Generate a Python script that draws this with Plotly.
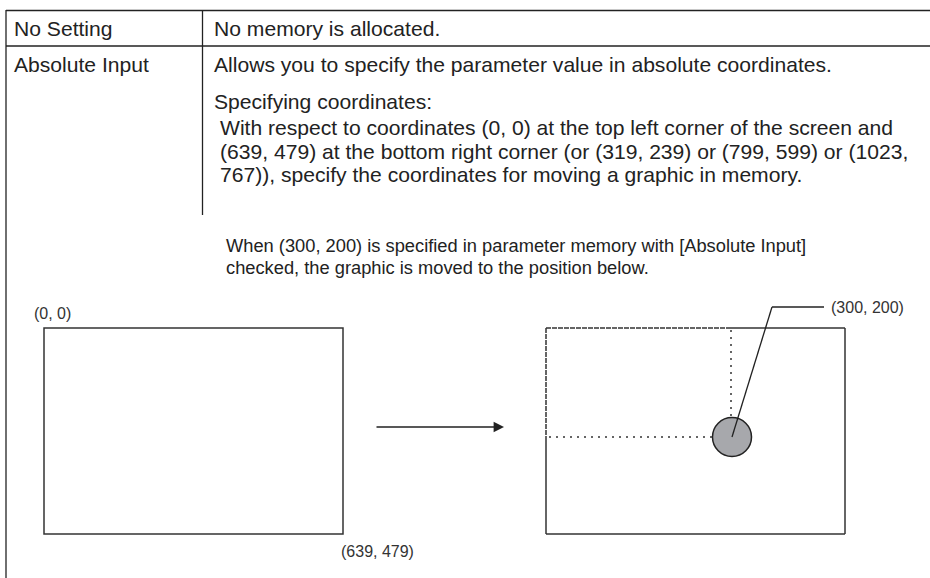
import plotly.graph_objects as go

# ---- data (text content) ----
row_labels = ["No Setting", "Absolute Input"]
row1_desc = ["No memory is allocated."]
row2_desc = [
    "Allows you to specify the parameter value in absolute coordinates.",
    "Specifying coordinates:",
    "With respect to coordinates (0, 0) at the top left corner of the screen and",
    "(639, 479) at the bottom right corner (or (319, 239) or (799, 599) or (1023,",
    "767)), specify the coordinates for moving a graphic in memory.",
]
caption_lines = [
    "When (300, 200) is specified in parameter memory with [Absolute Input]",
    "checked, the graphic is moved to the position below.",
]
origin_label = "(0, 0)"
corner_label = "(639, 479)"
target_label = "(300, 200)"

W, H = 930, 578
FONT = "Arial, 'Liberation Sans', sans-serif"
INK = "#222222"
LINE = "#333333"

fig = go.Figure()

shapes = []
annos = []

def line(x0, y0, x1, y1, color=INK, width=1.3, dash="solid"):
    shapes.append(dict(type="line", xref="x", yref="y", x0=x0, y0=y0, x1=x1, y1=y1,
                       line=dict(color=color, width=width, dash=dash)))

def text(x, y, s, size, color=INK, xanchor="left"):
    annos.append(dict(x=x, y=y, xref="x", yref="y", text=s, showarrow=False,
                      xanchor=xanchor, yanchor="middle",
                      font=dict(family=FONT, size=size, color=color)))

# table lines
line(6, 10.5, W + 5, 10.5)
line(6, 46, W + 5, 46)
line(6, 10, 6, H + 5)
line(202.5, 10, 202.5, 215)

# table text
TS = 21.1
text(12, 28, row_labels[0], TS)
text(212, 28, row1_desc[0], TS)
text(12, 64, row_labels[1], TS)
text(212, 64, row2_desc[0], TS)
text(212, 101, row2_desc[1], TS)
text(218, 127, row2_desc[2], TS)
text(218, 151, row2_desc[3], TS)
text(218, 174, row2_desc[4], TS)

# caption
CS = 18.3
text(224, 245, caption_lines[0], CS)
text(224, 267, caption_lines[1], CS)

# left screen
shapes.append(dict(type="rect", xref="x", yref="y", x0=44, y0=328, x1=343, y1=534,
                   line=dict(color=LINE, width=1.5)))
LS = 16
text(32, 313, origin_label, LS, color="#333333")
text(339, 551, corner_label, LS, color="#333333")

# arrow
annos.append(dict(x=504, y=427, ax=375, ay=427, xref="x", yref="y", axref="x", ayref="y",
                  text="", showarrow=True, arrowhead=2, arrowsize=1.6, arrowwidth=1.3,
                  arrowcolor=INK))

# right screen (old position edges drawn finely dashed)
rx0, ry0, rx1, ry1 = 546, 328, 845, 534
cx, cy, r = 732, 437, 19.5
line(rx0, ry0, cx - 1, ry0, color=LINE, width=1.5, dash="5px,1px")
line(cx - 1, ry0, rx1, ry0, color=LINE, width=1.5)
line(rx1, ry0, rx1, ry1, color=LINE, width=1.5)
line(rx0, ry1, rx1, ry1, color=LINE, width=1.5)
line(rx0, ry0, rx0, cy, color=LINE, width=1.5, dash="5px,1px")
line(rx0, cy, rx0, ry1, color=LINE, width=1.5)
line(cx - 1, ry0 + 2, cx - 1, cy - r, color=LINE, width=1.5, dash="2px,5px")
line(rx0 + 3, cy, cx - r, cy, color=LINE, width=1.5, dash="2px,5px")
shapes.append(dict(type="circle", xref="x", yref="y", x0=cx - r, y0=cy - r, x1=cx + r, y1=cy + r,
                   fillcolor="#a7a8ac", line=dict(color=INK, width=1.5)))
line(cx, cy, 772, 307, color=INK, width=1.3)
line(772, 307, 824, 307, color=INK, width=1.3)
text(829, 307, target_label, LS, color="#333333")

fig.update_layout(
    width=W, height=H,
    margin=dict(l=0, r=0, t=0, b=0),
    paper_bgcolor="white", plot_bgcolor="white",
    xaxis=dict(range=[0, W], visible=False, fixedrange=True),
    yaxis=dict(range=[H, 0], visible=False, fixedrange=True),
    shapes=shapes, annotations=annos, showlegend=False,
)

fig.write_html(
    "out.html",
    config={"displayModeBar": False, "staticPlot": True},
    post_script="document.body.style.margin='0px';document.body.style.overflow='hidden';",
)
